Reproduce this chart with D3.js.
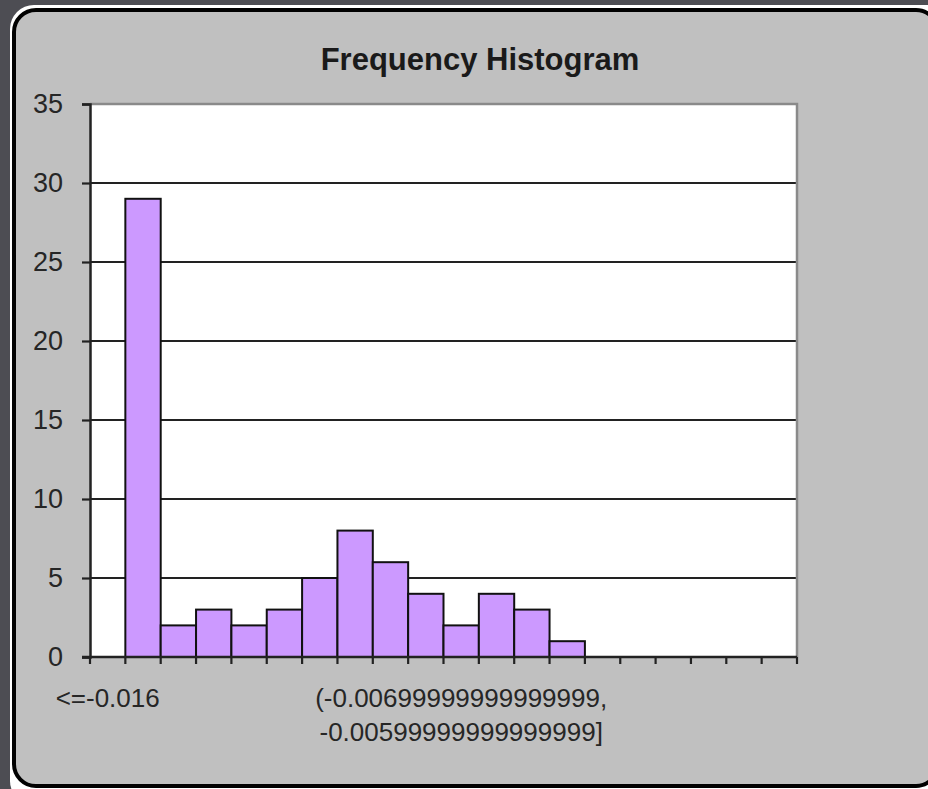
<!DOCTYPE html>
<html>
<head>
<meta charset="utf-8">
<script src="https://cdn.jsdelivr.net/npm/d3@7/dist/d3.min.js"></script>
<style>
  html, body { margin: 0; padding: 0; background: #4d4d53; }
  svg { display: block; }
</style>
</head>
<body>
<svg id="chart" width="928" height="789"></svg>
<script>
// ---- data ----
const title = "Frequency Histogram";
const categories = [
  "<=-0.016",
  "(-0.016, -0.015]",
  "(-0.015, -0.014]",
  "(-0.014, -0.013]",
  "(-0.013, -0.012]",
  "(-0.012, -0.011]",
  "(-0.011, -0.01]",
  "(-0.01, -0.00899999999999999]",
  "(-0.00899999999999999, -0.00799999999999999]",
  "(-0.00799999999999999, -0.00699999999999999]",
  "(-0.00699999999999999, -0.00599999999999999]",
  "(-0.00599999999999999, -0.00499999999999999]",
  "(-0.00499999999999999, -0.00399999999999999]",
  "(-0.00399999999999999, -0.00299999999999999]",
  "(-0.00299999999999999, -0.00199999999999999]",
  "(-0.00199999999999999, -0.000999999999999993]",
  "(-0.000999999999999993, 6.50521303491303E-18]",
  "(6.50521303491303E-18, 0.00100000000000001]",
  "(0.00100000000000001, 0.00200000000000001]",
  ">0.00200000000000001"
];
const frequencies = [0, 29, 2, 3, 2, 3, 5, 8, 6, 4, 2, 4, 3, 1, 0, 0, 0, 0, 0, 0];
const yTicks = [0, 5, 10, 15, 20, 25, 30, 35];
const labelledCategories = [0, 10]; // indices of categories whose label is shown

// ---- layout ----
const svg = d3.select("#chart");
const plot = { left: 90, top: 104, right: 797, bottom: 657 };

// panel highlight + panel
svg.append("rect")
  .attr("x", 10).attr("y", 5).attr("width", 940).attr("height", 800)
  .attr("rx", 24).attr("fill", "#ffffff");
svg.append("rect")
  .attr("x", 14).attr("y", 10).attr("width", 924).attr("height", 776)
  .attr("rx", 22).attr("fill", "#c0c0c0")
  .attr("stroke", "#000").attr("stroke-width", 4);

const x = d3.scaleBand().domain(categories).range([plot.left, plot.right]).padding(0);
const y = d3.scaleLinear().domain([0, 35]).range([plot.bottom, plot.top]);

// plot area
svg.append("rect")
  .attr("x", plot.left).attr("y", plot.top)
  .attr("width", plot.right - plot.left).attr("height", plot.bottom - plot.top)
  .attr("fill", "#fff");

// gridlines
svg.append("g").selectAll("line")
  .data(yTicks.filter(t => t > 0 && t < 35))
  .join("line")
  .attr("x1", plot.left).attr("x2", plot.right)
  .attr("y1", d => y(d)).attr("y2", d => y(d))
  .attr("stroke", "#222").attr("stroke-width", 2.2);

// plot border top/right (gray)
svg.append("path")
  .attr("d", `M${plot.left},${y(35)}H${plot.right}V${plot.bottom}`)
  .attr("fill", "none").attr("stroke", "#8a8a8a").attr("stroke-width", 2.5);

// bars
svg.append("g").selectAll("rect")
  .data(categories.map((c, i) => ({ c, v: frequencies[i] })).filter(d => d.v > 0))
  .join("rect")
  .attr("x", d => x(d.c))
  .attr("y", d => y(d.v))
  .attr("width", x.bandwidth())
  .attr("height", d => y(0) - y(d.v))
  .attr("fill", "#cc99ff")
  .attr("stroke", "#111").attr("stroke-width", 2);

// y axis
const yAxis = d3.axisLeft(y).tickValues(yTicks).tickSize(8).tickPadding(19).tickFormat(d3.format("d"));
const gy = svg.append("g").attr("transform", `translate(${plot.left},0)`).call(yAxis);
gy.select(".domain").attr("stroke", "#222").attr("stroke-width", 2.5);
gy.selectAll(".tick line").attr("stroke", "#222").attr("stroke-width", 2.2);
gy.selectAll(".tick text")
  .attr("font-family", "'Liberation Sans', Arial, sans-serif")
  .attr("font-size", 27).attr("fill", "#262626");

// x axis: tick marks at band boundaries
const boundaries = categories.map(c => x(c)).concat([plot.right]);
svg.append("g").selectAll("line")
  .data(boundaries)
  .join("line")
  .attr("x1", d => d).attr("x2", d => d)
  .attr("y1", plot.bottom).attr("y2", plot.bottom + 7)
  .attr("stroke", "#222").attr("stroke-width", 2.2);
svg.append("line")
  .attr("x1", plot.left - 8).attr("x2", plot.right)
  .attr("y1", plot.bottom).attr("y2", plot.bottom)
  .attr("stroke", "#222").attr("stroke-width", 2.5);

// x labels
const xl = svg.append("g").selectAll("text")
  .data(labelledCategories)
  .join("text")
  .attr("x", i => x(categories[i]) + x.bandwidth() / 2)
  .attr("y", 707)
  .attr("text-anchor", "middle")
  .attr("font-family", "'Liberation Sans', Arial, sans-serif")
  .attr("font-size", 26).attr("fill", "#262626");
xl.each(function(i) {
  const label = categories[i];
  const parts = label.includes(", ") ? [label.split(", ")[0] + ",", label.split(", ")[1]] : [label];
  d3.select(this).selectAll("tspan").data(parts).join("tspan")
    .attr("x", x(categories[i]) + x.bandwidth() / 2)
    .attr("dy", (d, k) => k === 0 ? 0 : 34)
    .text(d => d);
});

// title
svg.append("text")
  .attr("x", 480).attr("y", 70)
  .attr("text-anchor", "middle")
  .attr("font-family", "'Liberation Sans', Arial, sans-serif")
  .attr("font-weight", "bold").attr("font-size", 31).attr("fill", "#1a1a1a")
  .text(title);
</script>
</body>
</html>
